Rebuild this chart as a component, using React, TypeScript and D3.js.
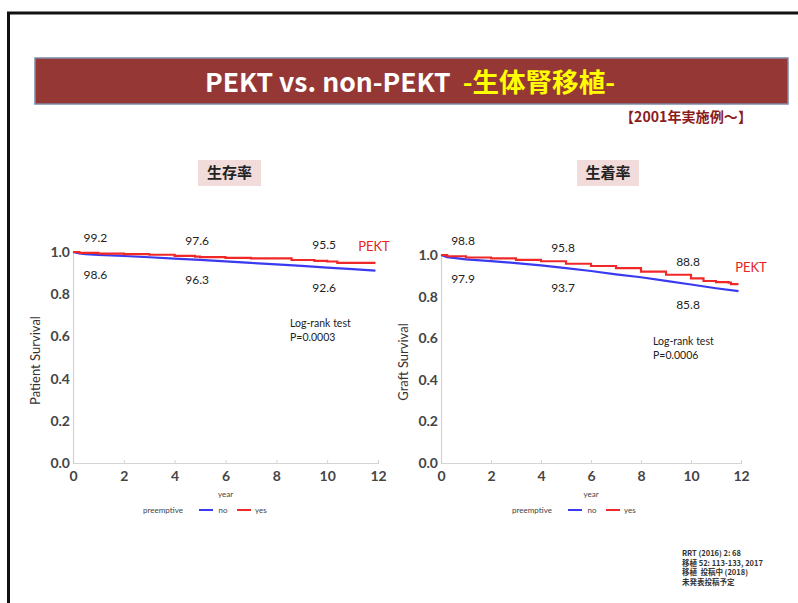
import React, { useRef, useEffect } from "react";
import * as d3 from "d3";

// survival data (year, survival proportion)
const xTicks = [0, 2, 4, 6, 8, 10, 12];
const yTicks = [0, 0.2, 0.4, 0.6, 0.8, 1.0];

const patientNoYear = [0, 0.25, 0.5, 1, 2, 3, 4, 5, 6, 7, 8, 9, 10, 11, 11.9];
const patientNoSurv = [1.0, 0.993, 0.99, 0.986, 0.981, 0.975, 0.969, 0.963, 0.956, 0.948, 0.941, 0.934, 0.926, 0.919, 0.912];
const patientYesYear = [0, 0.25, 1, 2, 3, 4, 4.8, 5, 6, 7, 8.6, 9.5, 10, 10.4, 11.9];
const patientYesSurv = [1.0, 0.996, 0.992, 0.99, 0.987, 0.982, 0.978, 0.976, 0.972, 0.97, 0.962, 0.958, 0.955, 0.948, 0.948];

const graftNoYear = [0, 0.25, 1, 2, 3, 4, 5, 6, 7, 8, 9, 10, 11, 11.9];
const graftNoSurv = [1.0, 0.99, 0.979, 0.971, 0.961, 0.95, 0.937, 0.923, 0.907, 0.893, 0.876, 0.858, 0.84, 0.826];
const graftYesYear = [0, 0.25, 1, 2, 3, 4, 5, 6, 7, 8, 9, 10, 10.5, 11, 11.5, 11.6, 11.9];
const graftYesSurv = [1.0, 0.994, 0.988, 0.984, 0.977, 0.97, 0.958, 0.947, 0.937, 0.92, 0.905, 0.888, 0.875, 0.87, 0.867, 0.86, 0.86];

const patientYesNotes = ["99.2", "97.6", "95.5"];
const patientNoNotes = ["98.6", "96.3", "92.6"];
const graftYesNotes = ["98.8", "95.8", "88.8"];
const graftNoNotes = ["97.9", "93.7", "85.8"];
const noteYears = [1, 5, 10];

const references = [
  "RRT (2016) 2: 68",
  "移植 52: 113-133, 2017",
  "移植  投稿中 (2018)",
  "未発表投稿予定",
];

const FONT = "Lato, 'Open Sans', sans-serif";
const JP = "'Noto Sans CJK JP', sans-serif";

const panels = [
  {
    title: "生存率",
    yLabel: "Patient Survival",
    pValue: "P=0.0003",
    left: 73, right: 378, top: 252, bottom: 463,
    box: [198, 160, 63, 26],
    logX: 290, logY: 327,
    no: [patientNoYear, patientNoSurv],
    yes: [patientYesYear, patientYesSurv],
    yesNotes: patientYesNotes,
    noNotes: patientNoNotes,
    pektDx: -4,
    legendX: 163,
  },
  {
    title: "生着率",
    yLabel: "Graft Survival",
    pValue: "P=0.0006",
    left: 441, right: 741, top: 255, bottom: 463,
    box: [577, 160, 62, 26],
    logX: 653, logY: 345,
    no: [graftNoYear, graftNoSurv],
    yes: [graftYesYear, graftYesSurv],
    yesNotes: graftYesNotes,
    noNotes: graftNoNotes,
    pektDx: 10,
    legendX: 532,
  },
];

const App: React.FC = () => {
  const ref = useRef<SVGSVGElement | null>(null);

  useEffect(() => {
    const svg = d3.select(ref.current);
    svg.selectAll("*").remove();

    svg.append("rect").attr("width", 798).attr("height", 603).attr("fill", "white");

    // slide frame
    svg.append("rect")
      .attr("x", 8.5).attr("y", 13)
      .attr("width", 820).attr("height", 620)
      .attr("fill", "none").attr("stroke", "#111").attr("stroke-width", 3);

    // banner
    svg.append("rect")
      .attr("x", 35).attr("y", 58).attr("width", 753).attr("height", 46)
      .attr("fill", "#953735").attr("stroke", "#7d8aa8").attr("stroke-width", 1.5);

    const title = svg.append("text")
      .attr("x", 205).attr("y", 92)
      .attr("textLength", 410).attr("lengthAdjust", "spacingAndGlyphs")
      .style("white-space", "pre")
      .style("font-family", JP).style("font-weight", 700).style("font-size", "26px");
    title.append("tspan").attr("fill", "white").text("PEKT vs. non-PEKT  ");
    title.append("tspan").attr("fill", "#ffff00").text("-生体腎移植-");

    svg.append("text")
      .attr("x", 620).attr("y", 122)
      .attr("textLength", 132).attr("lengthAdjust", "spacingAndGlyphs")
      .attr("fill", "#8b1c1c")
      .style("font-family", JP).style("font-weight", 700).style("font-size", "14px")
      .text("【2001年実施例～】");

    panels.forEach((p) => {
      const x = d3.scaleLinear().domain([0, 12]).range([p.left, p.right]);
      const y = d3.scaleLinear().domain([0, 1]).range([p.bottom, p.top]);
      const g = svg.append("g");

      // label box
      g.append("rect")
        .attr("x", p.box[0]).attr("y", p.box[1])
        .attr("width", p.box[2]).attr("height", p.box[3])
        .attr("fill", "#f2dcdb");
      g.append("text")
        .attr("x", p.box[0] + p.box[2] / 2).attr("y", p.box[1] + 18)
        .attr("text-anchor", "middle")
        .style("font-family", JP).style("font-weight", 700).style("font-size", "15px")
        .attr("fill", "#222")
        .text(p.title);

      // axes
      const xAxis = g.append("g")
        .attr("transform", `translate(0,${p.bottom})`)
        .call(d3.axisBottom(x).tickValues(xTicks).tickFormat(d3.format("d")).tickSize(-3).tickPadding(8));
      const yAxis = g.append("g")
        .attr("transform", `translate(${p.left},0)`)
        .call(d3.axisLeft(y).tickValues(yTicks).tickFormat(d3.format(".1f")).tickSize(0).tickPadding(3));
      [xAxis, yAxis].forEach((a) => {
        a.select(".domain").attr("stroke", "#d4d4d4").attr("stroke-width", 1.2);
        a.selectAll(".tick line").attr("stroke", "#d4d4d4");
        a.selectAll("text")
          .style("font-family", FONT).style("font-size", "14px")
          .style("font-weight", 700).attr("fill", "#454545");
      });

      g.append("text")
        .attr("transform", `translate(${p.left - 33},${(p.top + p.bottom) / 2 + 3}) rotate(-90)`)
        .attr("text-anchor", "middle")
        .style("font-family", FONT).style("font-size", "13px").attr("fill", "#333")
        .text(p.yLabel);

      // curves: the large "no" group has many events, so it reads as a smooth line
      const stepLine = d3.line<[number, number]>()
        .x((d) => x(d[0])).y((d) => y(d[1]))
        .curve(d3.curveStepAfter);
      const smoothLine = d3.line<[number, number]>()
        .x((d) => x(d[0])).y((d) => y(d[1]))
        .curve(d3.curveLinear);
      const series = [
        { data: p.no, color: "#3a3af0", gen: smoothLine },
        { data: p.yes, color: "#f02828", gen: stepLine },
      ];
      series.forEach((s) => {
        const pts = s.data[0].map((t, i) => [t, s.data[1][i]] as [number, number]);
        g.append("path")
          .attr("d", s.gen(pts))
          .attr("fill", "none")
          .attr("stroke", s.color)
          .attr("stroke-width", 2.2);
      });

      // year notes
      const yesFn = d3.scaleLinear().domain(p.yes[0]).range(p.yes[1]);
      const noFn = d3.scaleLinear().domain(p.no[0]).range(p.no[1]);
      noteYears.forEach((yr, i) => {
        g.append("text")
          .attr("x", x(yr) - 3).attr("y", y(yesFn(yr)) - 12)
          .attr("text-anchor", "middle")
          .style("font-family", FONT).style("font-size", "12px").attr("fill", "#222")
          .text(p.yesNotes[i]);
        g.append("text")
          .attr("x", x(yr) - 3).attr("y", y(noFn(yr)) + 24)
          .attr("text-anchor", "middle")
          .style("font-family", FONT).style("font-size", "12px").attr("fill", "#222")
          .text(p.noNotes[i]);
      });

      const lastYes = p.yes[1][p.yes[1].length - 1];
      g.append("text")
        .attr("x", x(12) + p.pektDx).attr("y", y(lastYes) - 12)
        .attr("text-anchor", "middle")
        .style("font-family", FONT).style("font-size", "13px").attr("fill", "#e8221e")
        .text("PEKT");

      g.append("text")
        .attr("x", p.logX).attr("y", p.logY)
        .style("font-family", FONT).style("font-size", "10.5px").attr("fill", "#222")
        .text("Log-rank test");
      g.append("text")
        .attr("x", p.logX).attr("y", p.logY + 14)
        .style("font-family", FONT).style("font-size", "10.5px").attr("fill", "#222")
        .text(p.pValue);

      // x label and legend
      g.append("text")
        .attr("x", (p.left + p.right) / 2).attr("y", 497)
        .attr("text-anchor", "middle")
        .style("font-family", FONT).style("font-size", "8px").attr("fill", "#444")
        .text("year");
      const lg = g.append("g").attr("transform", `translate(${p.legendX},513)`)
        .style("font-family", FONT).style("font-size", "8px").attr("fill", "#444");
      lg.append("text").attr("x", 0).attr("text-anchor", "middle").text("preemptive");
      lg.append("line").attr("x1", 36).attr("x2", 50).attr("y1", -3).attr("y2", -3)
        .attr("stroke", "#3a3af0").attr("stroke-width", 2);
      lg.append("text").attr("x", 60).attr("text-anchor", "middle").text("no");
      lg.append("line").attr("x1", 74).attr("x2", 88).attr("y1", -3).attr("y2", -3)
        .attr("stroke", "#f02828").attr("stroke-width", 2);
      lg.append("text").attr("x", 92).text("yes");
    });

    // references
    svg.append("g")
      .selectAll("text")
      .data(references)
      .enter()
      .append("text")
      .attr("x", 682)
      .attr("y", (d, i) => 556 + i * 9.5)
      .style("white-space", "pre")
      .style("font-family", JP).style("font-size", "7.5px").style("font-weight", 700)
      .attr("fill", "#333")
      .text((d) => d);
  }, []);

  return (
    <svg
      ref={ref}
      width={798}
      height={603}
      style={{ position: "absolute", left: 0, top: 0, display: "block" }}
    />
  );
};

export default App;
